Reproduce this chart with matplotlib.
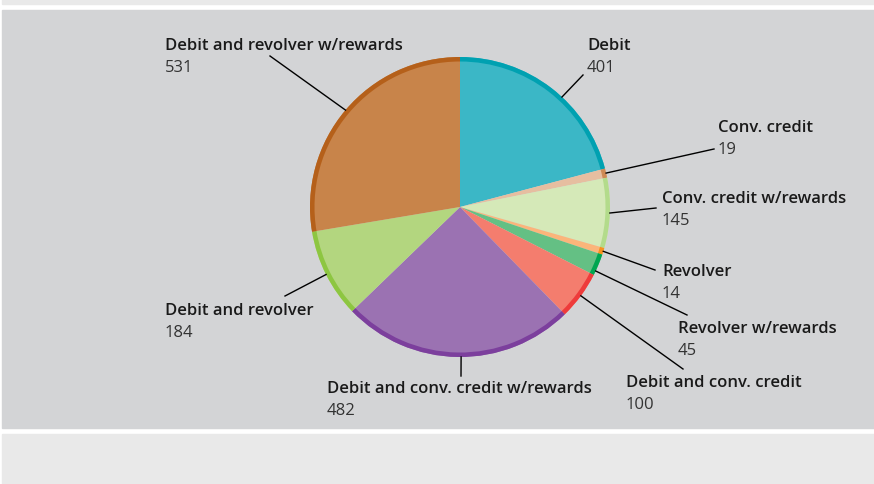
import matplotlib
matplotlib.use("Agg")
import matplotlib.pyplot as plt
from matplotlib.patches import Rectangle
import numpy as np

# Card-holding segments, drawn clockwise from 12 o'clock
categories = [
    "Debit",
    "Conv. credit",
    "Conv. credit w/rewards",
    "Revolver",
    "Revolver w/rewards",
    "Debit and conv. credit",
    "Debit and conv. credit w/rewards",
    "Debit and revolver",
    "Debit and revolver w/rewards",
]
counts = [401, 19, 145, 14, 45, 100, 482, 184, 531]

fill_colors = ["#3bb7c6", "#e6bea0", "#d5e9b8", "#fbb57a", "#64c084",
               "#f47d6e", "#9b72b2", "#b3d67f", "#c8844a"]
edge_colors = ["#00a1b1", "#cf8a55", "#b3db8b", "#f7921e", "#00a651",
               "#ee3b3b", "#7c3f9d", "#8dc641", "#b5601a"]

# label anchor (left, centre of name line) in pixel space, y from top
label_pos = [
    (587, 46), (718, 128), (662, 199), (662, 272), (678, 329),
    (626, 383), (327, 389), (165, 311), (165, 46),
]
# end point of each leader line, y from top
leader_end = [
    (583, 76), (714, 150), (656, 209), (655, 271), (687, 316),
    (683, 370), (461, 377), (285, 297), (270, 57),
]
# where each leader meets the rim, as a fraction across its wedge
leader_frac = [0.57, 0.5, 0.5, 0.5, 0.8, 0.5, 0.486, 0.5, 0.5]

W, H = 874, 485
fig = plt.figure(figsize=(W / 100, H / 100), dpi=100)
fig.patch.set_facecolor("white")
ax = fig.add_axes([0, 0, 1, 1])

def Y(y):
    return H - y

# background bands
ax.add_patch(Rectangle((2, Y(5)), W - 2, 5, color="#e9e9e9", zorder=0))
ax.add_patch(Rectangle((2, Y(429)), W - 2, 418, color="#d3d4d6", zorder=0))
ax.add_patch(Rectangle((2, 0), W - 2, H - 435, color="#e9e9e9", zorder=0))

cx, cy, R = 460, Y(208), 150
ax.pie(counts, colors=fill_colors, startangle=90, counterclock=False,
       center=(cx, cy), radius=R,
       wedgeprops=dict(linewidth=0.4, edgecolor=None))
ax.pie(counts, colors=edge_colors, startangle=90, counterclock=False,
       center=(cx, cy), radius=R,
       wedgeprops=dict(width=4.5, linewidth=0))

total = sum(counts)
cum = np.cumsum([0] + counts[:-1])
font = ["Open Sans", "DejaVu Sans"]
for i, (name, val) in enumerate(zip(categories, counts)):
    mid = np.deg2rad(90 - (cum[i] + val * leader_frac[i]) / total * 360)
    x0, y0 = cx + R * np.cos(mid), cy + R * np.sin(mid)
    ex, ey = leader_end[i]
    ax.plot([x0, ex], [y0, Y(ey)], color="black", lw=1.0, zorder=5)
    lx, ly = label_pos[i]
    ax.text(lx, Y(ly), name, fontsize=12, fontweight="semibold", family=font,
            color="#1a1a1a", ha="left", va="center")
    ax.text(lx, Y(ly + 22), str(val), fontsize=12, family=font,
            color="#333333", ha="left", va="center")

ax.set_xlim(0, W)
ax.set_ylim(0, H)
ax.set_aspect("auto")
ax.axis("off")
fig.savefig("out.png", dpi=100, facecolor="white")
